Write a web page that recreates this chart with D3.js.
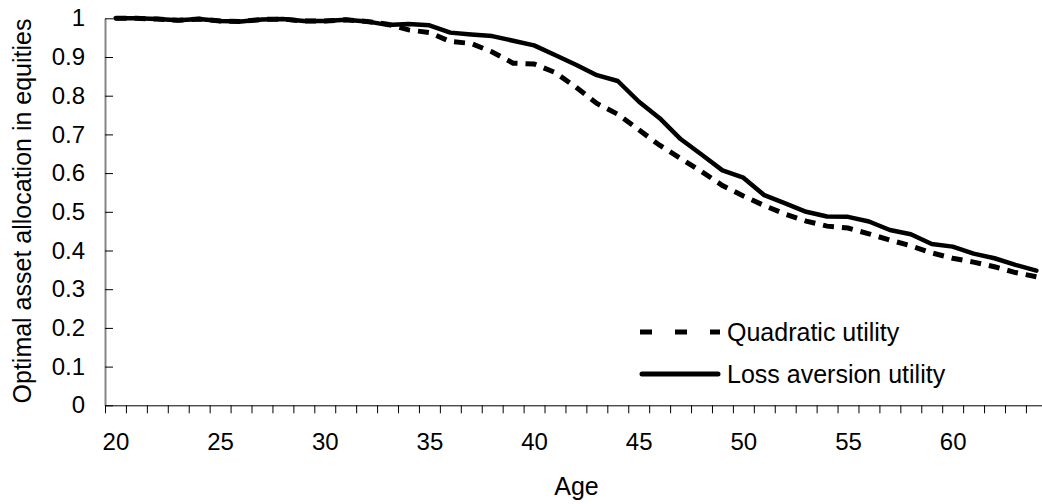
<!DOCTYPE html>
<html>
<head>
<meta charset="utf-8">
<script src="https://cdn.jsdelivr.net/npm/d3@7"></script>
<style>
    body { margin: 0; background: #fff; }
    svg text { font-family: "Liberation Sans", Arial, sans-serif; fill: #000; }
</style>
</head>
<body>
<div id="chart"></div>
<script>
        ////////////////////////////////////////////////
        // data, one value per year of age

        var ages = d3.range(20, 65);

        var quadratic = [
            1.000, 1.000, 0.998, 0.995, 0.998, 0.993, 0.992, 0.997, 0.998, 0.993,
            0.993, 0.996, 0.992, 0.985, 0.970, 0.963, 0.940, 0.935, 0.913, 0.884,
            0.882, 0.860, 0.822, 0.780, 0.752, 0.712, 0.672, 0.638, 0.604, 0.568,
            0.541, 0.516, 0.494, 0.476, 0.463, 0.458, 0.443, 0.427, 0.412, 0.394,
            0.380, 0.370, 0.358, 0.343, 0.332
        ];

        var lossAversion = [
            1.000, 1.000, 0.998, 0.995, 0.998, 0.993, 0.992, 0.997, 0.998, 0.993,
            0.993, 0.996, 0.992, 0.983, 0.985, 0.982, 0.963, 0.958, 0.954, 0.942,
            0.930, 0.905, 0.880, 0.853, 0.838, 0.785, 0.742, 0.688, 0.648, 0.607,
            0.588, 0.543, 0.522, 0.500, 0.488, 0.487, 0.475, 0.453, 0.442, 0.417,
            0.410, 0.392, 0.380, 0.363, 0.348
        ];

        var yTicks = d3.range(0, 11).map(function(i){ return i/10; });
        var xLabels = [20, 25, 30, 35, 40, 45, 50, 55, 60];

        var seriesNames = ['Quadratic utility', 'Loss aversion utility'];

        ////////////////////////////////////////////////

        var chart_w = 1042, chart_h = 504;
        var plotLeft = 105, plotTop = 18.3, plotBottom = 405.3;
        var yearWidth = 20.93;

        var vis = d3.select('#chart')
            .append('svg')
            .attr('width', chart_w)
            .attr('height', chart_h);

        var x = d3.scaleLinear()
            .domain([20, 65])
            .range([plotLeft, plotLeft + 45*yearWidth]);

        // labels and points sit in the middle of each year
        var xMid = d3.scaleLinear()
            .domain([19.5, 64.5])
            .range(x.range());

        var y = d3.scaleLinear()
            .domain([0, 1])
            .range([plotBottom, plotTop]);

        ////////////////////////////////////////////////
        // axes

        var yAxis = vis.append('g')
            .attr('transform', 'translate(' + plotLeft + ',0)')
            .call(d3.axisLeft(y)
                .tickValues(yTicks)
                .tickSizeInner(-8)
                .tickSizeOuter(0)
                .tickPadding(20)
                .tickFormat(function(d){
                    return (d === 0 || d === 1) ? String(d) : d.toFixed(1);
                }));
        yAxis.select('.domain').attr('stroke', '#858585').attr('stroke-width', 2);
        yAxis.selectAll('.tick line').attr('stroke', '#000');
        yAxis.selectAll('.tick text').attr('font-size', 24).attr('font-family', null);

        var xAxis = vis.append('g')
            .attr('transform', 'translate(0,' + plotBottom + ')')
            .call(d3.axisBottom(x)
                .tickValues(d3.range(20, 66))
                .tickSize(8)
                .tickSizeOuter(0)
                .tickFormat(''));
        xAxis.select('.domain').attr('stroke', '#000');

        var xLab = vis.append('g')
            .attr('transform', 'translate(0,' + plotBottom + ')')
            .call(d3.axisBottom(xMid)
                .tickValues(xLabels)
                .tickSize(0)
                .tickPadding(27.5)
                .tickFormat(d3.format('d')));
        xLab.select('.domain').remove();
        xLab.selectAll('.tick text').attr('font-size', 24).attr('font-family', null);

        vis.append('text')
            .attr('x', 576.5)
            .attr('y', 495)
            .attr('text-anchor', 'middle')
            .attr('font-size', 25)
            .text('Age');

        vis.append('text')
            .attr('transform', 'translate(31,211) rotate(-90)')
            .attr('text-anchor', 'middle')
            .attr('font-size', 25)
            .text('Optimal asset allocation in equities');

        ////////////////////////////////////////////////
        // lines

        function toPoints(values){
            return values.map(function(v, i){ return {age: ages[i], value: v}; });
        }

        var line = d3.line()
            .x(function(d){ return xMid(d.age); })
            .y(function(d){ return y(d.value); });

        vis.append('path')
            .datum(toPoints(quadratic))
            .attr('d', line)
            .attr('fill', 'none')
            .attr('stroke', '#000')
            .attr('stroke-width', 5)
            .attr('stroke-dasharray', '11,8');

        vis.append('path')
            .datum(toPoints(lossAversion))
            .attr('d', line)
            .attr('fill', 'none')
            .attr('stroke', '#000')
            .attr('stroke-width', 4.5)
            .attr('stroke-linejoin', 'round')
            .attr('stroke-linecap', 'round');

        ////////////////////////////////////////////////
        // legend

        var legend = vis.append('g');

        legend.append('line')
            .attr('x1', 640).attr('x2', 720)
            .attr('y1', 332).attr('y2', 332)
            .attr('stroke', '#000')
            .attr('stroke-width', 5)
            .attr('stroke-dasharray', '12,23');

        legend.append('line')
            .attr('x1', 642).attr('x2', 718)
            .attr('y1', 374).attr('y2', 374)
            .attr('stroke', '#000')
            .attr('stroke-width', 5)
            .attr('stroke-linecap', 'round');

        legend.selectAll('text')
            .data(seriesNames)
            .enter()
            .append('text')
            .attr('x', 727)
            .attr('y', function(d, i){ return 340.5 + i*42; })
            .attr('font-size', 25)
            .text(function(d){ return d; });
</script>
</body>
</html>
